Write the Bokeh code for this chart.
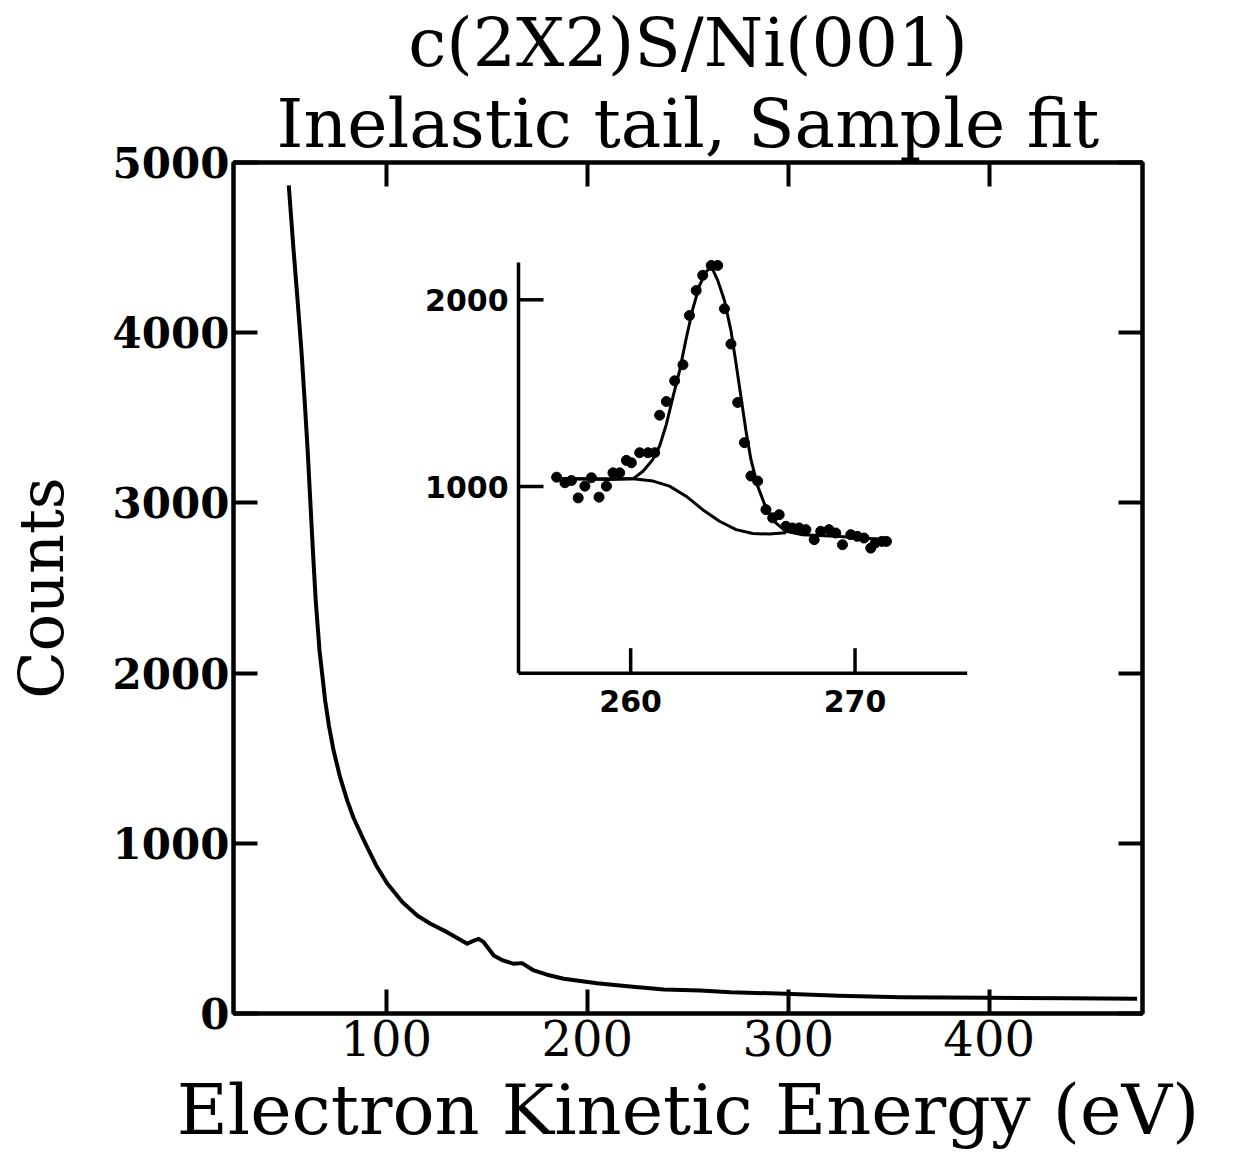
import math
from bokeh.plotting import figure
from bokeh.models import Range1d, LinearAxis, FixedTicker, Title
from bokeh.core.properties import value
from bokeh.embed import file_html
from bokeh.resources import INLINE

# ---------------- data: main spectrum (inelastic tail) ----------------
energy = [51.5, 53.9, 55.9, 57.8, 59.4, 60.9, 62.2, 63.5, 64.9, 66.8, 69.6, 71.5, 73.8,
          77.0, 80.6, 83.7, 89.6, 95.0, 100.5, 108.0, 115.4, 122.0, 130.3, 140.3, 143.0,
          146.0, 148.5, 153.5, 158.0, 163.5, 167.6, 173.4, 180.0, 188.3, 204.9, 220.0,
          238.1, 256.3, 271.3, 298.6, 325.0, 355.8, 399.0, 440.0, 473.6]
counts = [4865, 4483, 4189, 3895, 3602, 3308, 3014, 2721, 2427, 2133, 1839, 1690, 1545,
          1390, 1251, 1150, 999, 870, 764, 655, 576, 527, 478, 410, 425,
          439, 419, 341, 312, 292, 296, 253, 228, 204, 178, 160,
          141, 135, 125, 116, 105, 96, 92, 89, 86]
x_ticks = [100, 200, 300, 400]
y_ticks = [0, 1000, 2000, 3000, 4000, 5000]

# ---------------- data: inset (S peak, sample fit) ----------------
inset_energy = [256.70, 257.07, 257.36, 257.66, 257.96, 258.25, 258.59, 258.92, 259.21,
                259.51, 259.81, 260.03, 260.40, 260.77, 261.07, 261.29, 261.59, 261.96,
                262.33, 262.62, 262.92, 263.21, 263.59, 263.88, 264.18, 264.47, 264.77,
                265.07, 265.36, 265.66, 266.03, 266.33, 266.62, 266.92, 267.21, 267.51,
                267.81, 268.18, 268.47, 268.84, 269.14, 269.44, 269.81, 270.10, 270.40,
                270.70, 270.90, 271.20, 271.40]
inset_counts = [1050, 1020, 1032, 939, 1002, 1047, 943, 1002, 1073,
                1073, 1140, 1127, 1181, 1181, 1181, 1382, 1455, 1566,
                1652, 1916, 2050, 2131, 2184, 2184, 1952, 1763, 1450,
                1235, 1056, 1029, 876, 832, 849, 787, 778, 778,
                769, 715, 760, 769, 751, 688, 742, 733, 724,
                670, 697, 706, 706]
fit_energy = [256.7, 258.0, 259.0, 260.1, 260.55, 260.99, 261.29, 261.59, 261.88, 262.18,
              262.47, 262.77, 263.07, 263.36, 263.59, 263.88, 264.18, 264.47, 264.70,
              264.92, 265.14, 265.36, 265.66, 266.03, 266.47, 266.92, 267.66, 269.14, 271.5]
fit_counts = [1041, 1040, 1038, 1041, 1082, 1145, 1217, 1333, 1477, 1620,
              1790, 1952, 2077, 2149, 2180, 2104, 1996, 1835, 1656,
              1477, 1297, 1145, 1002, 885, 805, 760, 742, 733, 715]
bg_energy = [256.7, 260.1, 261.0, 261.73, 262.47, 263.21, 263.96, 264.70, 265.44, 266.18, 266.92]
bg_counts = [1041, 1041, 1029, 1002, 948, 876, 814, 769, 748, 745, 752]
inset_x_ticks = [260, 270]
inset_x_labels = ["260", "270"]
inset_y_ticks = [1000, 2000]
inset_y_labels = ["1000", "2000"]
inset_x_span = [255, 275]
inset_y_span = [0, 2200]

# ---------------- layout constants ----------------
W, H = 1240, 1153
FL, FR, FT, FB = 233, 1142, 162, 1013           # main frame in page pixels
IL, IR, IB, I2000 = 518.0, 966.7, 672.7, 299.3   # inset box in page pixels

SERIF = "DejaVu Serif"

p = figure(width=W, height=H, output_backend="svg", toolbar_location=None,
           x_range=Range1d(24, 476.3), y_range=Range1d(0, 5000),
           min_border_left=FL, min_border_right=W - FR,
           min_border_top=FT, min_border_bottom=H - FB,
           x_axis_label="Electron Kinetic Energy (eV)", y_axis_label="Counts")
p.background_fill_color = "white"
p.border_fill_color = "white"
p.grid.visible = False
p.outline_line_color = "black"
p.outline_line_width = 4


def style_axis(ax):
    ax.axis_line_width = 4
    ax.axis_line_color = "black"
    ax.major_tick_line_width = 4
    ax.major_tick_line_color = "black"
    ax.major_tick_in = 24
    ax.major_tick_out = 0
    ax.minor_tick_line_color = None


xa = p.xaxis[0]
ya = p.yaxis[0]
xa.ticker = FixedTicker(ticks=x_ticks, minor_ticks=[])
ya.ticker = FixedTicker(ticks=y_ticks, minor_ticks=[])
for ax in (xa, ya):
    style_axis(ax)
    ax.axis_label_text_font = SERIF
    ax.axis_label_text_font_style = "normal"
    ax.axis_label_text_color = "black"
xa.axis_label_text_font_size = "70px"
ya.axis_label_text_font_size = "62px"
xa.major_label_text_font = SERIF
xa.major_label_text_font_size = "48px"
xa.major_label_text_color = "black"
xa.major_label_standoff = 6
xa.axis_label_standoff = 10
ya.major_label_text_font = SERIF
ya.major_label_text_font_style = "bold"
ya.major_label_text_font_size = "42px"
ya.major_label_text_color = "black"
ya.major_label_standoff = 4
ya.axis_label_standoff = 32

top_ax = LinearAxis(ticker=FixedTicker(ticks=x_ticks, minor_ticks=[]),
                    major_label_overrides={t: "" for t in x_ticks})
right_ax = LinearAxis(ticker=FixedTicker(ticks=y_ticks, minor_ticks=[]),
                      major_label_overrides={t: "" for t in y_ticks})
for ax in (top_ax, right_ax):
    style_axis(ax)
    ax.major_label_standoff = 0
p.add_layout(top_ax, "above")
p.add_layout(right_ax, "right")

# titles (first added sits closest to the frame)
p.add_layout(Title(text="Inelastic tail, Sample fit", align="center",
                   text_font=SERIF, text_font_style="normal", text_font_size="68px",
                   text_color="black", standoff=0), "above")
p.add_layout(Title(text="c(2X2)S/Ni(001)", align="center",
                   text_font=SERIF, text_font_style="normal", text_font_size="68px",
                   text_color="black", standoff=0), "above")

# main curve
p.line(energy, counts, line_width=4, line_color="black", line_join="round")

# ---------------- inset through extra ranges ----------------
kx = (IR - IL) / (inset_x_span[1] - inset_x_span[0])
ky = (IB - I2000) / 2000.0
p.extra_x_ranges = {"ix": Range1d(inset_x_span[0] - (IL - FL) / kx,
                                  inset_x_span[1] + (FR - IR) / kx)}
p.extra_y_ranges = {"iy": Range1d(0 - (FB - IB) / ky, 0 + (IB - FT) / ky)}
ir = dict(x_range_name="ix", y_range_name="iy")

# inset axes lines
p.segment(x0=[inset_x_span[0], inset_x_span[0]], y0=[inset_y_span[0], inset_y_span[0]],
          x1=[inset_x_span[0], inset_x_span[1]], y1=[inset_y_span[1], inset_y_span[0]],
          line_width=3.5, line_color="black", **ir)
# inset ticks (inward)
p.ray(x=[inset_x_span[0]] * len(inset_y_ticks), y=inset_y_ticks, length=25,
      length_units="screen", angle=0, line_width=3.5, line_color="black", **ir)
p.ray(x=inset_x_ticks, y=[inset_y_span[0]] * len(inset_x_ticks), length=25,
      length_units="screen", angle=math.pi / 2, line_width=3.5, line_color="black", **ir)
# inset tick labels
p.text(x=[inset_x_span[0]] * len(inset_y_ticks), y=inset_y_ticks, text=inset_y_labels,
       x_offset=-10, text_align="right", text_baseline="middle",
       text_font=value("DejaVu Sans"), text_font_style="bold", text_font_size="30px",
       text_color="black", **ir)
p.text(x=inset_x_ticks, y=[inset_y_span[0]] * len(inset_x_ticks), text=inset_x_labels,
       y_offset=28, text_align="center", text_baseline="middle",
       text_font=value("DejaVu Sans"), text_font_style="bold", text_font_size="30px",
       text_color="black", **ir)

# inset curves and data
p.line(bg_energy, bg_counts, line_width=3, line_color="black", **ir)
p.line(fit_energy, fit_counts, line_width=3, line_color="black", **ir)
p.scatter(inset_energy, inset_counts, size=10, marker="circle",
          fill_color="black", line_color="black", **ir)

open("out.html", "w").write(file_html(p, INLINE))
